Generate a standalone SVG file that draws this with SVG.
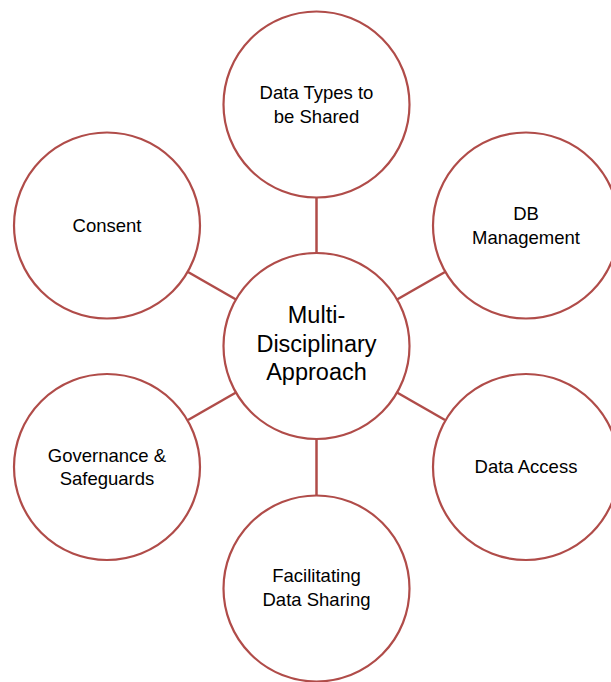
<svg xmlns="http://www.w3.org/2000/svg" width="611" height="682" viewBox="0 0 611 682">
<style>
.c{fill:#fff;stroke:#b04c49;stroke-width:2.2}
.l{stroke:#b04c49;stroke-width:2.5;fill:none}
.t{font-family:"Liberation Sans",Arial,sans-serif;font-size:18.5px;fill:#000;text-anchor:middle}
.m{font-family:"Liberation Sans",Arial,sans-serif;font-size:23.5px;fill:#000;text-anchor:middle}
</style>
<rect width="611" height="682" fill="#fff"/>
<g id="connectors">
<line class="l" x1="316.5" y1="253" x2="316.5" y2="197.5"/>
<line class="l" x1="316.5" y1="439" x2="316.5" y2="495"/>
<line class="l" x1="236" y1="299.5" x2="188" y2="272"/>
<line class="l" x1="397" y1="299.5" x2="445" y2="272"/>
<line class="l" x1="236" y1="392.5" x2="188" y2="420"/>
<line class="l" x1="397" y1="392.5" x2="445" y2="420"/>
</g>
<g id="center">
<circle class="c" cx="316.5" cy="346" r="93"/>
<text class="m" x="316.5" y="323">Multi-</text>
<text class="m" x="316.5" y="352">Disciplinary</text>
<text class="m" x="316.5" y="380">Approach</text>
</g>
<g id="data-types">
<circle class="c" cx="316.5" cy="104.5" r="93"/>
<text class="t" x="316.5" y="99">Data Types to</text>
<text class="t" x="316.5" y="122.5">be Shared</text>
</g>
<g id="db-management">
<circle class="c" cx="526" cy="225.5" r="93"/>
<text class="t" x="526" y="220">DB</text>
<text class="t" x="526" y="243.5">Management</text>
</g>
<g id="consent">
<circle class="c" cx="107" cy="225.5" r="93"/>
<text class="t" x="107" y="231.5">Consent</text>
</g>
<g id="governance">
<circle class="c" cx="107" cy="467" r="93"/>
<text class="t" x="107" y="461.5">Governance &amp;</text>
<text class="t" x="107" y="485">Safeguards</text>
</g>
<g id="data-access">
<circle class="c" cx="526" cy="467" r="93"/>
<text class="t" x="526" y="472.5">Data Access</text>
</g>
<g id="facilitating">
<circle class="c" cx="316.5" cy="588.5" r="93"/>
<text class="t" x="316.5" y="582">Facilitating</text>
<text class="t" x="316.5" y="605.5">Data Sharing</text>
</g>
</svg>
